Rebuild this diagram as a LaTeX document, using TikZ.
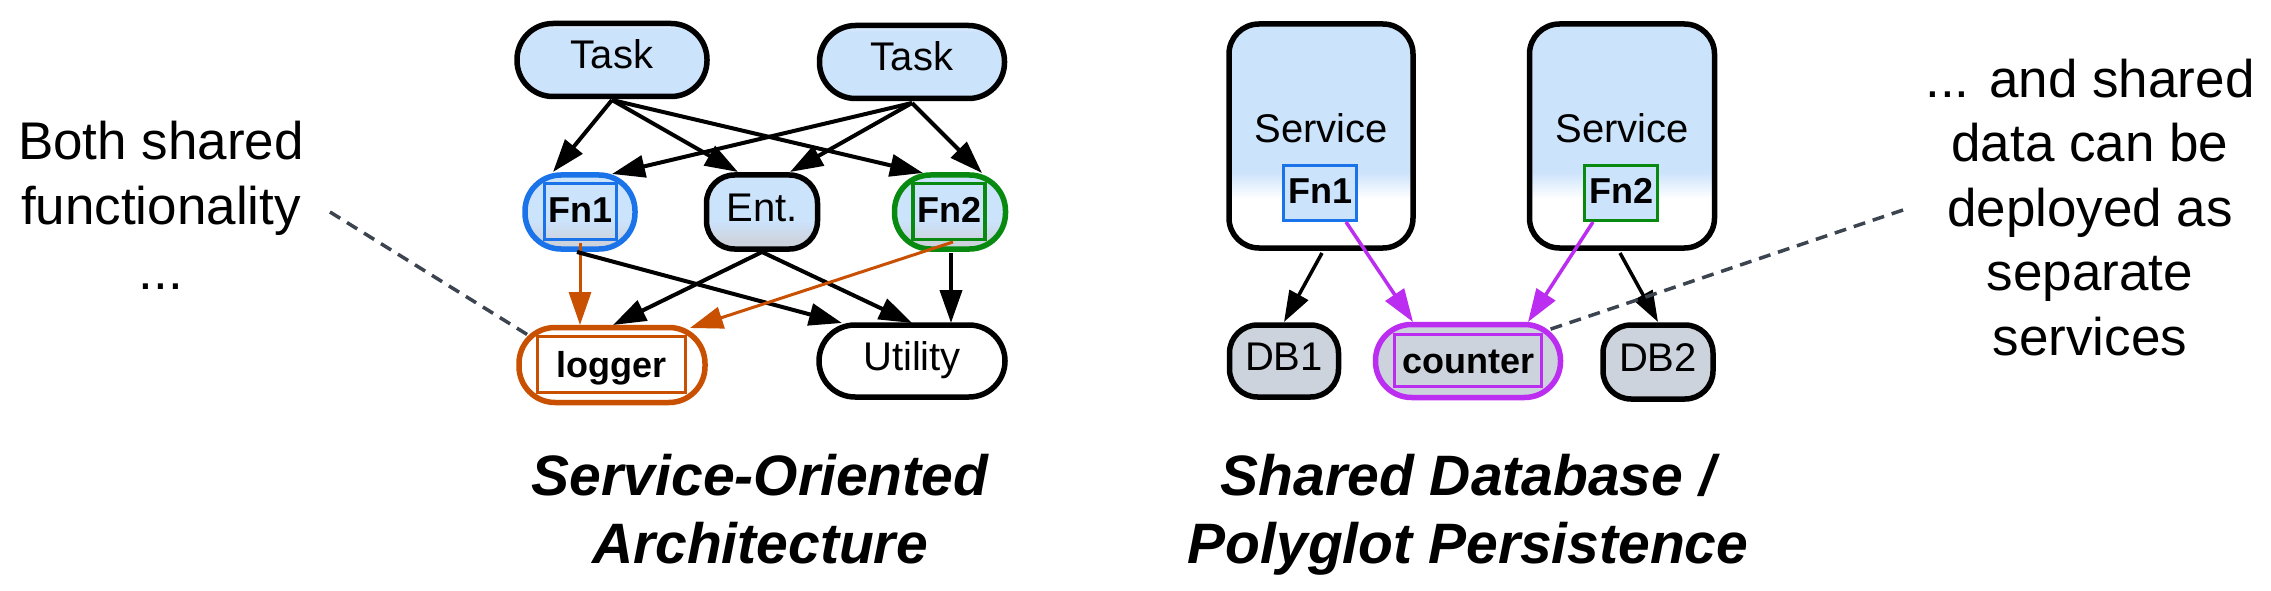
\documentclass[tikz,border=0pt]{standalone}
\usepackage{fontspec}
\setmainfont{Liberation Sans}
\usetikzlibrary{arrows.meta}
\definecolor{nblue}{HTML}{CCE3FC}
\definecolor{ngray}{HTML}{CDD3DC}
\definecolor{cblue}{HTML}{1A73E8}
\definecolor{cgreen}{HTML}{08890F}
\definecolor{corange}{HTML}{C85000}
\definecolor{cpurple}{HTML}{BB2DF0}
\definecolor{cdash}{HTML}{3C4450}
\pgfdeclareverticalshading{taskshade}{100bp}{color(0bp)=(nblue); color(71bp)=(nblue); color(75bp)=(nblue!45!white); color(100bp)=(nblue!45!white)}
\pgfdeclareverticalshading{grayshade}{100bp}{color(0bp)=(ngray); color(30bp)=(ngray); color(44bp)=(nblue); color(100bp)=(nblue)}
\pgfdeclareverticalshading{whiteshade}{100bp}{color(0bp)=(white); color(36bp)=(white); color(42bp)=(nblue); color(100bp)=(nblue)}
\tikzset{
  every node/.style={inner sep=0pt, outer sep=0pt},
  regtxt/.style={font=\fontsize{40}{48}\selectfont, text height=30pt, text depth=12pt},
  boldtxt/.style={font=\fontsize{36}{44}\selectfont\bfseries, text height=26pt, text depth=4pt},
  nbase/.style={draw, line width=5.5pt},
  pill/.style={nbase, rounded corners=36pt},
  roundbox/.style={nbase, rounded corners=28pt},
  taskn/.style={pill, regtxt, minimum width=190pt, minimum height=73pt, shade, shading=taskshade},
  fnouter/.style={pill, minimum width=110pt, minimum height=74pt, shade, shading=grayshade},
  fninner/.style={boldtxt, draw, line width=3.5pt, minimum width=72pt, minimum height=56pt},
  entn/.style={roundbox, regtxt, minimum width=111pt, minimum height=74pt, shade, shading=grayshade},
  libn/.style={pill, minimum width=186pt, minimum height=74pt, fill=white},
  svcn/.style={nbase, rounded corners=30pt, font=\fontsize{40}{48}\selectfont, text height=29pt, text depth=15pt, minimum width=185pt, minimum height=224pt, shade, shading=whiteshade},
  dbn/.style={roundbox, regtxt, minimum width=110pt, minimum height=73pt, fill=ngray},
  blk/.style={line width=4pt, -{Triangle[length=33pt,width=22pt]}},
  blkthin/.style={line width=3.5pt, -{Triangle[length=31pt,width=21pt]}},
  org/.style={line width=3pt, color=corange, -{Triangle[length=33pt,width=22pt]}},
  pur/.style={line width=3.5pt, color=cpurple, -{Triangle[length=33pt,width=22pt]}},
  dashln/.style={draw=cdash, line width=3.5pt, dash pattern=on 12pt off 8pt},
  sidetxt/.style={font=\fontsize{53}{65}\selectfont, align=center, anchor=north},
  captxt/.style={font=\fontsize{57}{68}\selectfont\bfseries\itshape, align=center, anchor=north}
}
\begin{document}
\begin{tikzpicture}[x=1pt, y=-1pt]
\fill[white] (0,0) rectangle (2271,591);
\useasboundingbox (0,0) rectangle (2271,591);

% ---------- left diagram ----------
\node[taskn] (tA) at (612,60) {Task};
\node[taskn, minimum width=185pt] (tB) at (912,62) {Task};

\node[fnouter, draw=cblue] (fA) at (580,212) {};
\node[fninner, draw=cblue] (fAi) at (580.5,211.5) {Fn1};
\node[entn] (en) at (762,212) {Ent.};
\node[fnouter, draw=cgreen, minimum width=111pt] (fB) at (950,212) {};
\node[fninner, draw=cgreen] (fBi) at (949,211.5) {Fn2};

\node[libn, draw=corange, minimum width=186pt, minimum height=75pt] (lg) at (612,365) {};
\node[boldtxt, text height=26pt, text depth=0pt, draw=corange, line width=3.5pt, minimum width=148pt, minimum height=56pt] (lgi) at (611.5,364.5) {logger};
\node[libn, regtxt, minimum height=72pt] (ut) at (912,361) {Utility};

\draw[blk] ([shift={(0,40)}]tA.center) -- ([shift={(-27,-40)}]fA.center);
\draw[blk] ([shift={(0,40)}]tA.center) -- ([shift={(-24,-40)}]en.center);
\draw[blk] ([shift={(0,40)}]tA.center) -- ([shift={(-27,-39)}]fB.center);
\draw[blk] ([shift={(0,41)}]tB.center) -- ([shift={(32,-38)}]fA.center);
\draw[blk] ([shift={(0,41)}]tB.center) -- ([shift={(28,-40)}]en.center);
\draw[blk] ([shift={(0,41)}]tB.center) -- ([shift={(32,-39)}]fB.center);
\draw[org] ([shift={(0,31)}]fA.center) -- ([shift={(-32,-40)}]lg.center);
\draw[blk] ([shift={(-3,40)}]fA.center) -- ([shift={(-70,-38)}]ut.center);
\draw[blk] ([shift={(0,40)}]en.center) -- ([shift={(1,-40)}]lg.center);
\draw[blk] ([shift={(0,40)}]en.center) -- ([shift={(0,-38)}]ut.center);
\draw[org] ([shift={(3,30)}]fB.center) -- ([shift={(78,-37)}]lg.center);
\draw[blk] ([shift={(1,41)}]fB.center) -- ([shift={(39,-38)}]ut.center);

% ---------- right diagram ----------
\node[svcn, minimum width=184pt] (sA) at (1321,136) {Service};
\node[fninner, draw=cblue, fill=nblue, minimum width=73pt, minimum height=55pt] (sAf) at (1320,193) {Fn1};
\node[svcn] (sB) at (1622,136) {Service};
\node[fninner, draw=cgreen, fill=nblue, minimum width=73pt, minimum height=55pt] (sBf) at (1621,193) {Fn2};

\node[dbn, minimum width=109pt, minimum height=72pt] (db1) at (1284,361) {DB1};
\node[pill, draw=cpurple, fill=ngray, minimum width=185pt, minimum height=73pt] (ctr) at (1468,361) {};
\node[boldtxt, text height=26pt, text depth=0pt, draw=cpurple, line width=3.5pt, minimum width=147pt, minimum height=52pt] (ctri) at (1468,360.5) {counter};
\node[dbn, minimum height=74pt] (db2) at (1658,362) {DB2};

\draw[blkthin] ([shift={(1,117)}]sA.center) -- ([shift={(0,-39)}]db1.center);
\draw[pur] ([shift={(26,29)}]sAf.center) -- ([shift={(-55,-39)}]ctr.center);
\draw[pur] ([shift={(-28,29)}]sBf.center) -- ([shift={(60,-39)}]ctr.center);
\draw[blkthin] ([shift={(-2,117)}]sB.center) -- ([shift={(0,-40)}]db2.center);

% ---------- side texts ----------
\node[sidetxt] (lt) at (161,121) {Both shared\\functionality\\...};
\node[sidetxt, font=\fontsize{53}{64.5}\selectfont] (rt) at (2090,59) {... and shared\\data can be\\deployed as\\separate\\services};
\coordinate (dl) at (330,212);
\draw[dashln] (dl) -- ([shift={(-84,-30)}]lg.center);
\coordinate (dr) at (1903,210);
\draw[dashln] (dr) -- ([shift={(80,-31)}]ctr.center);

% ---------- captions ----------
\node[captxt] (c1) at (760,454) {Service-Oriented\\Architecture};
\node[captxt] (c2) at (1468,454) {Shared Database /\\Polyglot Persistence};
\end{tikzpicture}
\end{document}
